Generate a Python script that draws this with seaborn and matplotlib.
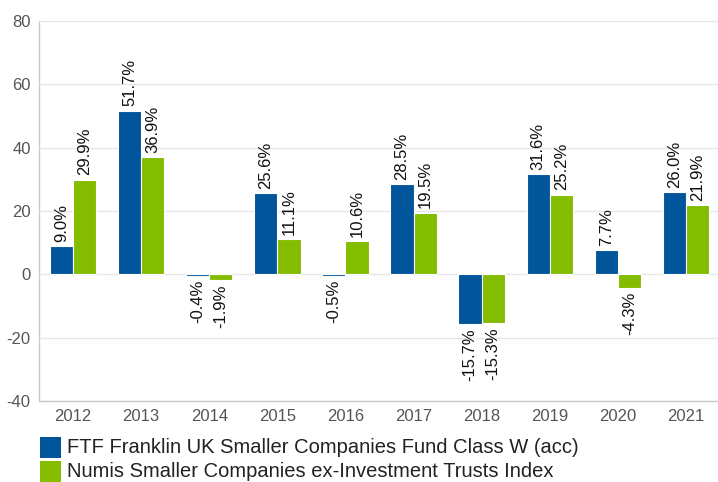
import matplotlib
matplotlib.use("Agg")
import matplotlib.pyplot as plt
import seaborn as sns
import pandas as pd
from matplotlib.patches import Rectangle

years = ["2012", "2013", "2014", "2015", "2016", "2017", "2018", "2019", "2020", "2021"]
fund_name = "FTF Franklin UK Smaller Companies Fund Class W (acc)"
index_name = "Numis Smaller Companies ex-Investment Trusts Index"
fund_values = [9.0, 51.7, -0.4, 25.6, -0.5, 28.5, -15.7, 31.6, 7.7, 26.0]
index_values = [29.9, 36.9, -1.9, 11.1, 10.6, 19.5, -15.3, 25.2, -4.3, 21.9]
y_ticks = [-40, -20, 0, 20, 40, 60, 80]

blue = "#00559B"
green = "#84BC00"

df = pd.DataFrame({
    "year": years * 2,
    "value": fund_values + index_values,
    "series": [fund_name] * len(years) + [index_name] * len(years),
})

sns.set_theme(style="white")
plt.rcParams["font.family"] = ["Liberation Sans", "DejaVu Sans"]
plt.rcParams["axes.unicode_minus"] = False

fig = plt.figure(figsize=(7.18, 4.82), dpi=100)
ax = fig.add_axes([39 / 718, 81 / 482, 681 / 718, 380 / 482])

sns.barplot(data=df, x="year", y="value", hue="series", order=years,
            hue_order=[fund_name, index_name], palette=[blue, green],
            width=0.68, dodge=True, ax=ax, legend=False,
            edgecolor="white", linewidth=0.8, saturation=1)

for cont in ax.containers:
    labels = [f"{v:.1f}%" for v in cont.datavalues]
    ax.bar_label(cont, labels=labels, rotation=90, padding=3,
                 fontsize=12, color="#111111")

ax.set_ylim(-40, 80)
ax.set_yticks(y_ticks)
ax.set_xlim(-0.5, 9.5)
ax.yaxis.grid(True, color="#e6e6e6", linewidth=1)
ax.set_axisbelow(True)
ax.set_xlabel("")
ax.set_ylabel("")
ax.tick_params(axis="both", labelsize=12, labelcolor="#555555", length=0)
ax.tick_params(axis="x", pad=6)
ax.tick_params(axis="y", pad=6)
ax.set_frame_on(False)
ax.axvline(-0.5, color="#c8c8c8", linewidth=1, clip_on=False, zorder=0.5)
ax.axhline(-40, color="#c8c8c8", linewidth=1, clip_on=False, zorder=0.5)

# legend
entries = [(fund_name, blue, 437), (index_name, green, 461)]
for name, col, ytop in entries:
    fig.patches.append(Rectangle((40 / 718, 1 - (ytop + 21) / 482), 21 / 718, 21 / 482,
                                 transform=fig.transFigure, facecolor=col,
                                 edgecolor="none"))
    fig.text(67 / 718, 1 - (ytop + 10.5) / 482, name, fontsize=14.5,
             color="#222222", va="center", ha="left")

fig.savefig("out.png", dpi=100)
